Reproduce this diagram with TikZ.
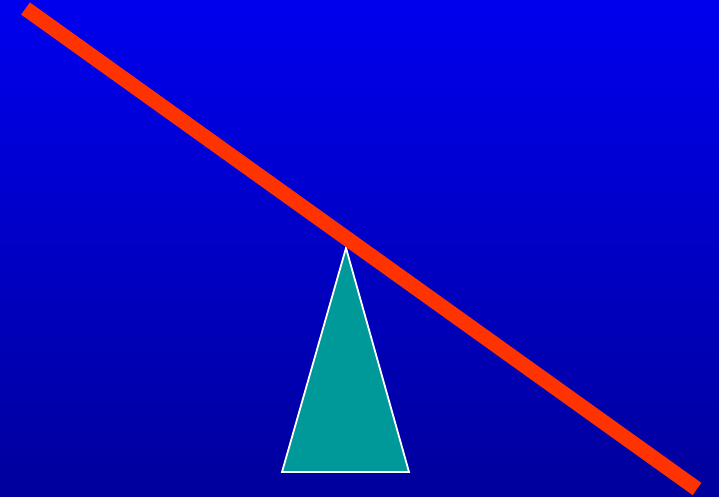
\documentclass[tikz,border=0pt]{standalone}
\definecolor{bgtop}{HTML}{0000EE}
\definecolor{bgbot}{HTML}{00009C}
\definecolor{beam}{HTML}{FF3300}
\definecolor{fulcrum}{HTML}{009999}
\tikzset{
  beamline/.style={draw=beam, line width=15pt, line cap=butt},
  fulcrumshape/.style={fill=fulcrum, draw=white, line width=1.8pt, line join=miter}
}
\begin{document}
\begin{tikzpicture}[x=1pt,y=-1pt]
\shade[top color=bgtop, bottom color=bgbot] (0,0) rectangle (719,496);
\useasboundingbox (0,0) rectangle (719,496);
\coordinate (apex) at (346,248);
\coordinate (bl) at (282,472);
\coordinate (br) at (409,472);
\path[fulcrumshape] (apex) -- (br) -- (bl) -- cycle;
\coordinate (b1) at (25.5,8.5);
\coordinate (b2) at (697,489);
\draw[beamline] (b1) -- (b2);
\end{tikzpicture}
\end{document}
